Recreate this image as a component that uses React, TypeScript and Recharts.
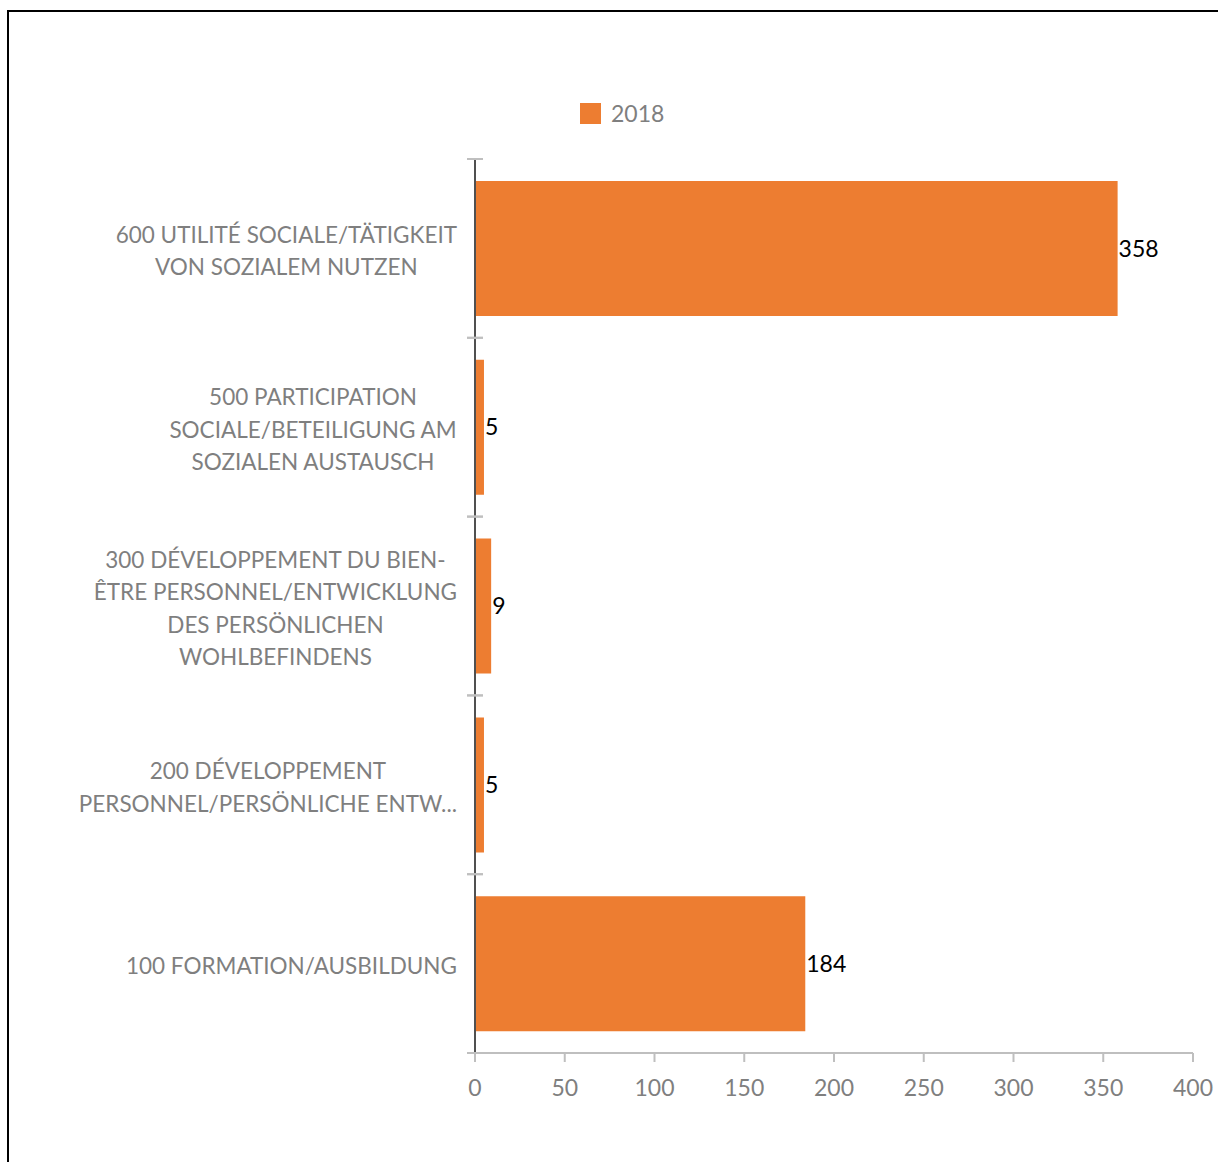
import { BarChart, Bar, XAxis, YAxis, LabelList } from 'recharts';

const categories = [
    '600 UTILITÉ SOCIALE/TÄTIGKEIT\nVON SOZIALEM NUTZEN',
    '500 PARTICIPATION\nSOCIALE/BETEILIGUNG AM\nSOZIALEN AUSTAUSCH',
    '300 DÉVELOPPEMENT DU BIEN-\nÊTRE PERSONNEL/ENTWICKLUNG\nDES PERSÖNLICHEN\nWOHLBEFINDENS',
    '200 DÉVELOPPEMENT\nPERSONNEL/PERSÖNLICHE ENTW...',
    '100 FORMATION/AUSBILDUNG',
];
const values2018 = [358, 5, 9, 5, 184];
const xTicks = [0, 50, 100, 150, 200, 250, 300, 350, 400];

const data = categories.map((name, i) => ({ name, v2018: values2018[i] }));

const ORANGE = '#ED7D31';
const GRAY = '#7f7f7f';
const FONT = 'Lato, "Open Sans", sans-serif';
const FS = 23;
const CAT_FS = 22.5;

// plot geometry (inside the bordered frame)
const CHART_W = 1209;
const CHART_H = 1150;
const PLOT_LEFT = 466;
const PLOT_TOP = 146;
const PLOT_RIGHT = 1184;
const PLOT_BOTTOM = 1040;
const X_AXIS_H = 60;
const BAND = (PLOT_BOTTOM - PLOT_TOP) / categories.length;

let ctx: CanvasRenderingContext2D | null = null;
function measure(text: string) {
    if (!ctx) ctx = document.createElement('canvas').getContext('2d');
    if (!ctx) return text.length * CAT_FS * 0.55;
    ctx.font = `${CAT_FS}px Lato`;
    return ctx.measureText(text).width;
}

function CategoryTick(props: any) {
    const { x, y, payload } = props;
    const lines: string[] = String(payload.value).split('\n');
    const maxW = Math.max(...lines.map(measure));
    const cx = x - 18 - maxW / 2;
    const lh = 32.5;
    const mid = y + 2.5;
    return (
        <g>
            <line x1={x - 8} x2={x + 8} y1={y - BAND / 2} y2={y - BAND / 2} stroke="#bfbfbf" strokeWidth={2} />
            <line x1={x - 8} x2={x + 8} y1={y + BAND / 2} y2={y + BAND / 2} stroke="#bfbfbf" strokeWidth={2} />
            {lines.map((ln, i) => (
                <text
                    key={i}
                    x={cx}
                    y={mid + (i - (lines.length - 1) / 2) * lh + 8}
                    textAnchor="middle"
                    fill={GRAY}
                    fontSize={CAT_FS}
                    fontFamily={FONT}
                >
                    {ln}
                </text>
            ))}
        </g>
    );
}

export default function App() {
    return (
        <div
            style={{
                position: 'absolute',
                left: 7,
                top: 10,
                width: 1230,
                height: 1170,
                borderTop: '2px solid #000',
                borderLeft: '2px solid #000',
                fontFamily: FONT,
            }}
        >
            {/* legend */}
            <div style={{ position: 'absolute', left: 571, top: 91, display: 'flex', alignItems: 'center' }}>
                <span style={{ width: 21, height: 21, background: ORANGE, display: 'inline-block' }}></span>
                <span style={{ marginLeft: 10, fontSize: FS, color: GRAY, lineHeight: '21px' }}>2018</span>
            </div>

            <div style={{ position: 'absolute', left: 0, top: 1 }}>
                <BarChart
                    width={CHART_W}
                    height={CHART_H}
                    data={data}
                    layout="vertical"
                    margin={{
                        top: PLOT_TOP,
                        left: 0,
                        right: CHART_W - PLOT_RIGHT,
                        bottom: CHART_H - PLOT_BOTTOM - X_AXIS_H,
                    }}
                >
                    <XAxis
                        type="number"
                        domain={[0, 400]}
                        ticks={xTicks}
                        height={X_AXIS_H}
                        axisLine={{ stroke: '#bfbfbf', strokeWidth: 2 }}
                        tickLine={{ stroke: '#bfbfbf', strokeWidth: 2 }}
                        tickSize={9}
                        tickMargin={18}
                        tick={{ fill: GRAY, fontSize: FS, fontFamily: FONT }}
                        interval={0}
                    />
                    <YAxis
                        type="category"
                        dataKey="name"
                        width={PLOT_LEFT}
                        axisLine={{ stroke: '#505050', strokeWidth: 2 }}
                        tickLine={false}
                        tickSize={0}
                        tickMargin={0}
                        tick={<CategoryTick />}
                        interval={0}
                    />
                    <Bar dataKey="v2018" fill={ORANGE} barSize={135} isAnimationActive={false}>
                        <LabelList
                            dataKey="v2018"
                            position="right"
                            offset={1}
                            fill="#000"
                            fontSize={FS}
                            fontFamily={FONT}
                        />
                    </Bar>
                </BarChart>
            </div>
        </div>
    );
}
